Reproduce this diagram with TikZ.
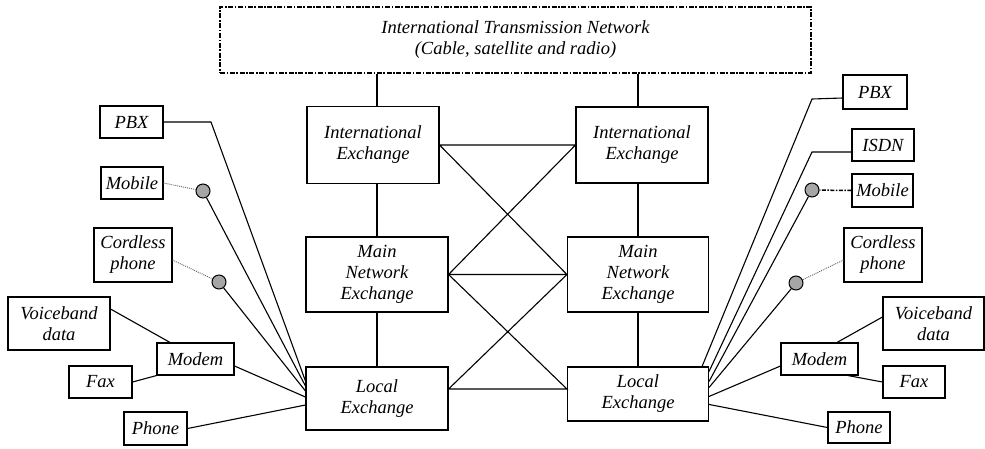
\documentclass[tikz,border=0pt]{standalone}
\usepackage{fontspec}
\setmainfont{Liberation Serif}
\usetikzlibrary{positioning}

\begin{document}
\begin{tikzpicture}[x=1pt,y=-1pt]
\tikzset{
  netbox/.style={draw,line width=1.1pt,inner sep=0pt,align=center,font=\fontsize{18.5}{21}\selectfont\itshape},
  trunkbox/.style={netbox,line width=1.6pt,dash pattern=on 5pt off 1.6pt on 1.6pt off 1.6pt},
  handset/.style={circle,draw,fill=black!35,line width=1pt,minimum size=14pt,inner sep=0pt},
  link/.style={line width=1.1pt},
  radio/.style={black!60,line width=0.9pt,dash pattern=on 1pt off 1pt},
  cellular/.style={line width=1.5pt,dash pattern=on 4pt off 1.5pt on 1.5pt off 1.5pt}
}
\useasboundingbox (0,0) rectangle (985,448);
\node[trunkbox,minimum width=591pt,minimum height=66pt] (n_trans) at (515.5,40) {International Transmission Network\\(Cable, satellite and radio)};
\node[netbox,minimum width=132pt,minimum height=77pt] (n_intL) at (373,145) {International\\Exchange};
\node[netbox,minimum width=132pt,minimum height=76pt] (n_intR) at (642,145) {International\\Exchange};
\node[netbox,minimum width=142pt,minimum height=75pt] (n_mainL) at (377,274.5) {Main\\Network\\Exchange};
\node[netbox,minimum width=141pt,minimum height=75pt] (n_mainR) at (638,274.5) {Main\\Network\\Exchange};
\node[netbox,minimum width=142pt,minimum height=63pt] (n_locL) at (377,398.5) {Local\\Exchange};
\node[netbox,minimum width=141pt,minimum height=54pt] (n_locR) at (638,394) {Local\\Exchange};
\draw[link] (n_trans.south -| n_mainL.north) -- (n_mainL.north |- n_intL.north);
\draw[link] (n_trans.south -| n_mainR.north) -- (n_mainR.north |- n_intR.north);
\draw[link] (n_intL.south -| n_mainL.north) -- (n_mainL.north);
\draw[link] (n_intR.south -| n_mainR.north) -- (n_mainR.north);
\draw[link] (n_mainL.south) -- (n_locL.north);
\draw[link] (n_mainR.south) -- (n_locR.north);
\draw[link] (n_intL.east) -- (n_intR.west) -- (n_mainL.east) -- (n_mainR.west) -- cycle;
\draw[link] (n_mainL.east) -- ([yshift=5pt]n_locR.west) -- ([yshift=9.5pt]n_locL.east) -- (n_mainR.west);
\node[netbox,minimum width=63pt,minimum height=32pt] (n_pbxL) at (131.5,122) {PBX};
\node[netbox,minimum width=62pt,minimum height=32pt] (n_mobL) at (132,183) {Mobile};
\node[netbox,minimum width=78pt,minimum height=54pt] (n_cordL) at (133,255) {Cordless\\phone};
\node[netbox,minimum width=102pt,minimum height=53pt] (n_voiceL) at (59,323.5) {Voiceband\\data};
\node[netbox,minimum width=77pt,minimum height=32pt] (n_modemL) at (195.5,359) {Modem};
\node[netbox,minimum width=63pt,minimum height=32pt] (n_faxL) at (100.5,382) {Fax};
\node[netbox,minimum width=63pt,minimum height=33pt] (n_phoneL) at (155.5,428.5) {Phone};
\node[handset] (h_mobL) at (203,191) {};
\node[handset] (h_cordL) at (219,282) {};
\coordinate (b_pbxL) at (211,122);
\draw[link] (n_pbxL.east) -- (b_pbxL) -- ([yshift=17.5pt]n_locL.west);
\draw[radio] (n_mobL.east) -- (h_mobL);
\draw[link] (h_mobL) -- ([yshift=12.5pt]n_locL.west);
\draw[radio] ([yshift=-5pt]n_cordL.east) -- (h_cordL);
\draw[link] (h_cordL) -- ([yshift=7.5pt]n_locL.west);
\draw[link] ([yshift=14.5pt]n_voiceL.east) -- ([xshift=-25.5pt]n_modemL.north);
\draw[link] (n_faxL.east) -- (n_modemL.south west);
\draw[link] ([yshift=-7pt]n_modemL.east) -- ([yshift=1.5pt]n_locL.west);
\draw[link] (n_phoneL.east) -- ([yshift=-6.5pt]n_locL.west);
\node[netbox,minimum width=64pt,minimum height=34pt] (n_pbxR) at (875,92) {PBX};
\node[netbox,minimum width=62pt,minimum height=32pt] (n_isdnR) at (883,145) {ISDN};
\node[netbox,minimum width=61pt,minimum height=33pt] (n_mobR) at (882.5,190.5) {Mobile};
\node[netbox,minimum width=78pt,minimum height=54pt] (n_cordR) at (883,255) {Cordless\\phone};
\node[netbox,minimum width=101pt,minimum height=53pt] (n_voiceR) at (933.5,323.5) {Voiceband\\data};
\node[netbox,minimum width=77pt,minimum height=32pt] (n_modemR) at (819.5,359) {Modem};
\node[netbox,minimum width=62pt,minimum height=32pt] (n_faxR) at (914,382) {Fax};
\node[netbox,minimum width=62pt,minimum height=31pt] (n_phoneR) at (859,427.5) {Phone};
\node[handset] (h_mobR) at (812,190) {};
\node[handset] (h_cordR) at (796,283) {};
\coordinate (b_pbxR) at (812,99);
\coordinate (b_isdnR) at (812,152);
\draw[link] ([yshift=-6pt]n_pbxR.west) -- (b_pbxR) -- ([xshift=-7pt]n_locR.north east);
\draw[link] ([yshift=-7pt]n_isdnR.west) -- (b_isdnR) -- ([yshift=-5pt]n_locR.north east);
\draw[cellular] (n_mobR.west) -- (h_mobR);
\draw[link] (h_mobR) -- ([yshift=-15pt]n_locR.north east);
\draw[radio] ([yshift=-5pt]n_cordR.west) -- (h_cordR);
\draw[link] (h_cordR) -- ([yshift=-21pt]n_locR.north east);
\draw[link] ([yshift=6.5pt]n_voiceR.west) -- ([xshift=17.5pt]n_modemR.north);
\draw[link] ([xshift=28.5pt]n_modemR.south) -- (n_faxR.west);
\draw[link] ([yshift=-7pt]n_modemR.west) -- ([yshift=-30pt]n_locR.north east);
\draw[link] ([yshift=-38pt]n_locR.north east) -- (n_phoneR.west);
\end{tikzpicture}
\end{document}
